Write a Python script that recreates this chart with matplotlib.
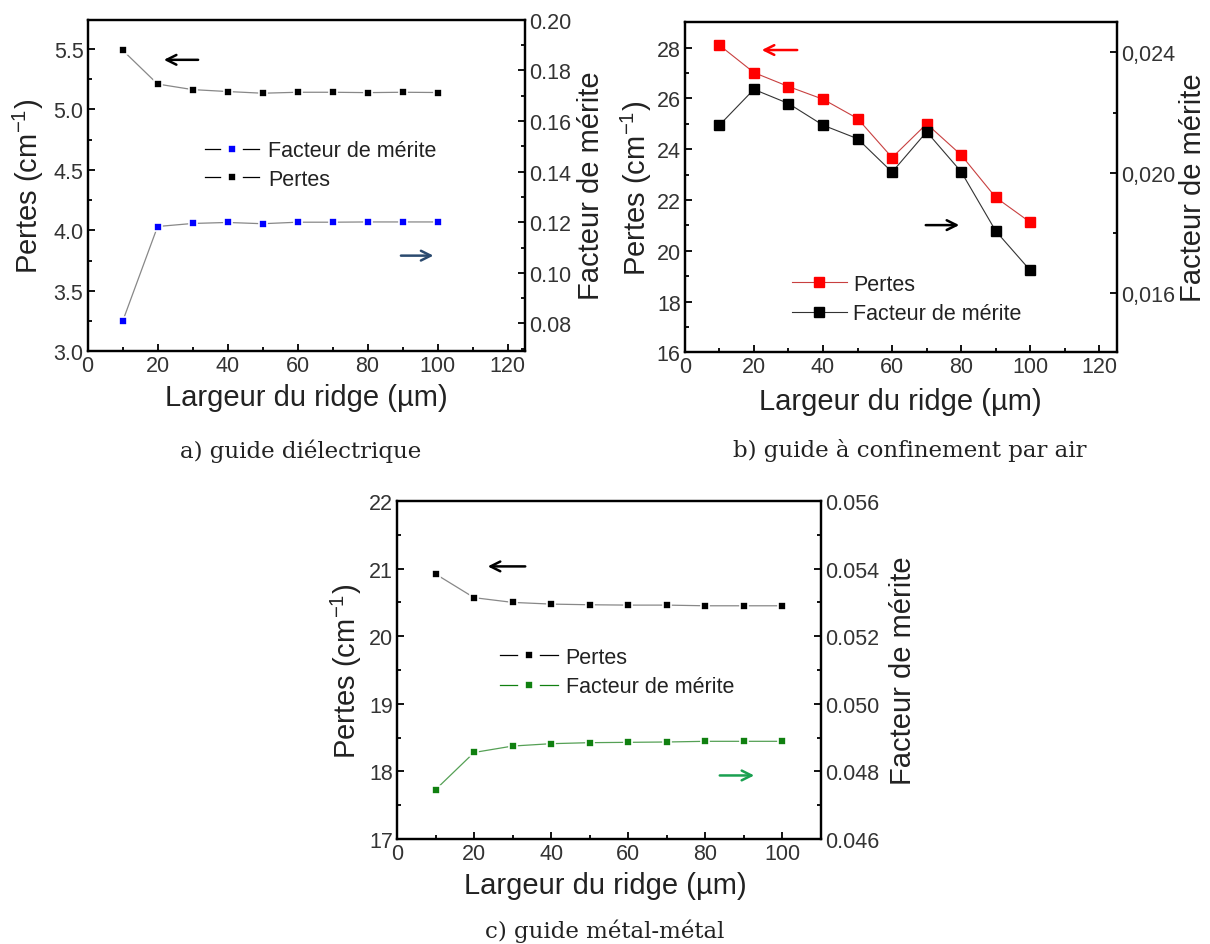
import matplotlib
matplotlib.use('Agg')
import matplotlib.pyplot as plt
from matplotlib.ticker import MultipleLocator, FuncFormatter

plt.rcParams['font.family'] = ['Liberation Sans', 'DejaVu Sans']
plt.rcParams['text.color'] = '#222222'
plt.rcParams['axes.labelcolor'] = '#222222'
plt.rcParams['xtick.color'] = '#111111'
plt.rcParams['ytick.color'] = '#111111'
plt.rcParams['xtick.labelcolor'] = '#333333'
plt.rcParams['ytick.labelcolor'] = '#333333'

largeur = [10, 20, 30, 40, 50, 60, 70, 80, 90, 100]

# a) guide dielectrique
pertes_a = [5.49, 5.21, 5.164, 5.148, 5.134, 5.142, 5.142, 5.139, 5.142, 5.14]
facteur_a = [0.0808, 0.1183, 0.1195, 0.1199, 0.1194, 0.1200, 0.1200, 0.1201, 0.1201, 0.1201]

# b) guide a confinement par air
pertes_b = [28.1, 27.02, 26.47, 25.97, 25.21, 23.67, 25.0, 23.77, 22.1, 21.12]
facteur_b = [0.02158, 0.02277, 0.0223, 0.02158, 0.02113, 0.02002, 0.02136, 0.02003, 0.01806, 0.01675]

# c) guide metal-metal
pertes_c = [20.92, 20.57, 20.50, 20.475, 20.465, 20.46, 20.46, 20.45, 20.45, 20.45]
facteur_c = [0.04746, 0.04856, 0.04875, 0.04882, 0.04885, 0.04886, 0.04887, 0.04889, 0.04889, 0.04889]

captions = ['a) guide diélectrique', 'b) guide à confinement par air', 'c) guide métal-métal']

W, H = 1210, 945
fig = plt.figure(figsize=(W / 100, H / 100), dpi=100)

xlab = 'Largeur du ridge (µm)'
ylab = 'Pertes (cm$^{\\mathregular{-1}}$)'
ylab2 = 'Facteur de mérite'
LS = 21
TS = 15.5


def fx(x):
    return x / W


def fy(y):
    return 1 - y / H


def box(l, t, r, b):
    return [fx(l), fy(b), (r - l) / W, (b - t) / H]


def setup(ax, ax2, xmax, xl, yl, yr):
    for a in (ax, ax2):
        for s in a.spines.values():
            s.set_linewidth(1.6)
    ax.tick_params(direction='in', top=False, right=False, labelsize=TS, width=1.4, length=5, pad=3)
    ax.tick_params(which='minor', direction='in', top=False, right=False, width=1.4, length=3)
    ax2.tick_params(direction='in', labelsize=TS, width=1.4, length=5, pad=3)
    ax2.tick_params(which='minor', direction='in', width=1.4, length=3)
    ax.set_xlim(0, xmax)
    ax.xaxis.set_major_locator(MultipleLocator(20))
    ax.xaxis.set_minor_locator(MultipleLocator(10))
    ax.set_xlabel(xlab, fontsize=LS, va='center')
    ax.set_ylabel(ylab, fontsize=LS, va='center')
    ax2.set_ylabel(ylab2, fontsize=LS, va='center')
    ax.xaxis.set_label_coords(fx(xl[0]), fy(xl[1]), transform=fig.transFigure)
    ax.yaxis.set_label_coords(fx(yl[0]), fy(yl[1]), transform=fig.transFigure)
    ax2.yaxis.set_label_coords(fx(yr[0]), fy(yr[1]), transform=fig.transFigure)


def arrow(ax, x0, x1, y, color):
    ax.annotate('', xy=(x1, y), xytext=(x0, y), xycoords='axes fraction',
                arrowprops=dict(arrowstyle='->,head_length=0.7,head_width=0.35', lw=1.8, color=color))


mk = dict(marker='s', markersize=6, markeredgecolor='white', markeredgewidth=1.2)
# legend handles: small marker with a white gap on each side of it
mkl = dict(marker='s', markersize=9.5, markeredgecolor='white', markeredgewidth=5.5)

# ---- a
ax = fig.add_axes(box(87.6, 20.7, 525, 352.3))
ax2 = ax.twinx()
setup(ax, ax2, 125, (306, 398), (28, 186), (591, 186))
ax.plot(largeur, pertes_a, color='#888888', markerfacecolor='black', lw=0.9, **mk)
ax2.plot(largeur, facteur_a, color='#888888', markerfacecolor='#0000ff', lw=0.9, **mk)
ax.set_ylim(3.0, 5.742)
ax.yaxis.set_major_locator(MultipleLocator(0.5))
ax.yaxis.set_minor_locator(MultipleLocator(0.25))
ax2.set_ylim(0.069, 0.2)
ax2.yaxis.set_major_locator(MultipleLocator(0.02))
ax2.yaxis.set_minor_locator(MultipleLocator(0.01))
ax2.yaxis.set_major_formatter(FuncFormatter(lambda v, p: '%.2f' % v))
h1 = plt.Line2D([], [], color='black', markerfacecolor='#0000ff', lw=0.9, **mkl)
h2 = plt.Line2D([], [], color='black', markerfacecolor='black', lw=0.9, **mkl)
ax.legend([h1, h2], ['Facteur de mérite', 'Pertes'], loc='center left', bbox_to_anchor=(0.268, 0.562),
          frameon=False, fontsize=TS, handlelength=2.5, handletextpad=0.45, labelspacing=0.35,
          borderpad=0, borderaxespad=0)
arrow(ax, 0.259, 0.168, 0.879, 'black')
arrow(ax, 0.710, 0.797, 0.2885, '#2b4a6f')
fig.text(fx(301), fy(451), captions[0], ha='center', va='center', fontsize=16.5, family='DejaVu Serif')

# ---- b
ax = fig.add_axes(box(684.8, 23.3, 1116.7, 353.3))
ax2 = ax.twinx()
setup(ax, ax2, 125, (900, 402), (636, 188), (1193, 188))
mkb = dict(marker='s', markersize=7, lw=0.8)
ax.plot(largeur, pertes_b, color='#c84040', markerfacecolor='#ff0000', markeredgecolor='#ff0000', **mkb)
ax2.plot(largeur, facteur_b, color='#333333', markerfacecolor='black', markeredgecolor='black', **mkb)
ax.set_ylim(16, 29)
ax.yaxis.set_major_locator(MultipleLocator(2))
ax.yaxis.set_minor_locator(MultipleLocator(1))
ax2.set_ylim(0.01403, 0.025)
ax2.yaxis.set_major_locator(MultipleLocator(0.004))
ax2.yaxis.set_minor_locator(MultipleLocator(0.002))
ax2.yaxis.set_major_formatter(FuncFormatter(lambda v, p: ('%.3f' % v).replace('.', ',')))
hb1 = plt.Line2D([], [], color='#c84040', markerfacecolor='#ff0000', markeredgecolor='#ff0000', **mkb)
hb2 = plt.Line2D([], [], color='#333333', markerfacecolor='black', markeredgecolor='black', **mkb)
ax.legend([hb1, hb2], ['Pertes', 'Facteur de mérite'], loc='center left', bbox_to_anchor=(0.248, 0.162),
          frameon=False, fontsize=TS, handlelength=2.55, handletextpad=0.3, labelspacing=0.4,
          borderpad=0, borderaxespad=0)
arrow(ax, 0.2667, 0.1718, 0.916, '#ff0000')
arrow(ax, 0.5515, 0.6418, 0.3854, 'black')
fig.text(fx(910), fy(451), captions[1], ha='center', va='center', fontsize=16.5, family='DejaVu Serif')

# ---- c
ax = fig.add_axes(box(397, 502, 821, 840))
ax2 = ax.twinx()
setup(ax, ax2, 110, (605, 886), (346, 671), (903, 671))
ax.plot(largeur, pertes_c, color='#888888', markerfacecolor='black', lw=0.9, **mk)
ax2.plot(largeur, facteur_c, color='#55a055', markerfacecolor='#108010', lw=0.9, **mk)
ax.set_ylim(17, 22)
ax.yaxis.set_major_locator(MultipleLocator(1))
ax.yaxis.set_minor_locator(MultipleLocator(0.5))
ax2.set_ylim(0.046, 0.056)
ax2.yaxis.set_major_locator(MultipleLocator(0.002))
ax2.yaxis.set_minor_locator(MultipleLocator(0.001))
ax2.yaxis.set_major_formatter(FuncFormatter(lambda v, p: '%.3f' % v))
hc1 = plt.Line2D([], [], color='black', markerfacecolor='black', lw=0.9, **mkl)
hc2 = plt.Line2D([], [], color='#108010', markerfacecolor='#108010', lw=0.9, **mkl)
ax.legend([hc1, hc2], ['Pertes', 'Facteur de mérite'], loc='center left', bbox_to_anchor=(0.243, 0.494),
          frameon=False, fontsize=TS, handlelength=2.7, handletextpad=0.35, labelspacing=0.4,
          borderpad=0, borderaxespad=0)
arrow(ax, 0.309, 0.2075, 0.8065, 'black')
arrow(ax, 0.7547, 0.849, 0.188, '#1aa050')
fig.text(fx(605), fy(931), captions[2], ha='center', va='center', fontsize=16.5, family='DejaVu Serif')

fig.savefig('out.png', dpi=100)
